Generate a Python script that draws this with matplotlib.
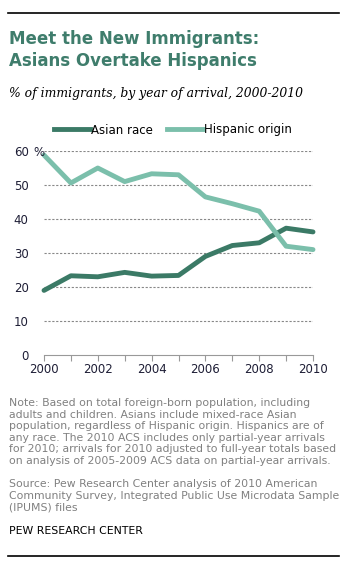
import matplotlib
matplotlib.use('Agg')
import matplotlib.pyplot as plt
from matplotlib.lines import Line2D

# Data
years = list(range(2000, 2011))
asian = [19.0, 23.3, 23.0, 24.3, 23.2, 23.4, 29.0, 32.2, 33.0, 37.3, 36.2]
hispanic = [58.8, 50.6, 55.0, 51.0, 53.3, 53.0, 46.5, 44.5, 42.3, 32.0, 31.0]
y_ticks = [0, 10, 20, 30, 40, 50, 60]
x_labels = [2000, 2002, 2004, 2006, 2008, 2010]

title = "Meet the New Immigrants:\nAsians Overtake Hispanics"
subtitle = "% of immigrants, by year of arrival, 2000-2010"
note = ("Note: Based on total foreign-born population, including\n"
        "adults and children. Asians include mixed-race Asian\n"
        "population, regardless of Hispanic origin. Hispanics are of\n"
        "any race. The 2010 ACS includes only partial-year arrivals\n"
        "for 2010; arrivals for 2010 adjusted to full-year totals based\n"
        "on analysis of 2005-2009 ACS data on partial-year arrivals.")
source = ("Source: Pew Research Center analysis of 2010 American\n"
          "Community Survey, Integrated Public Use Microdata Sample\n"
          "(IPUMS) files")

dark = '#3b7a66'
light = '#7bbfab'
tick_col = '#1e1e36'
W, H = 358, 566

fig = plt.figure(figsize=(W / 100, H / 100), dpi=100)
plt.rcParams['font.family'] = 'DejaVu Sans'

def fx(px):
    return px / W

def fy(py):
    return 1 - py / H

# rules at top and bottom
fig.add_artist(Line2D([fx(8), fx(339)], [fy(13), fy(13)], color='black', lw=1.2))
fig.add_artist(Line2D([fx(8), fx(339)], [fy(556), fy(556)], color='black', lw=1.2))

fig.text(fx(9), fy(30), title, fontsize=12, fontweight='bold', color='#3f7d6c',
         va='top', ha='left', linespacing=1.25)
fig.text(fx(9), fy(93), subtitle, fontsize=8.9, style='italic', family='DejaVu Serif',
         va='center', ha='left')

ax = fig.add_axes([fx(44), fy(355), fx(313) - fx(44), (355 - 151) / H])
ax.plot(years, asian, color=dark, lw=3.5, solid_capstyle='round', clip_on=False, zorder=3)
ax.plot(years, hispanic, color=light, lw=3.5, solid_capstyle='round', clip_on=False, zorder=3)
ax.set_xlim(2000, 2010)
ax.set_ylim(0, 60)
ax.set_yticks(y_ticks)
ax.set_yticklabels([str(v) for v in y_ticks])
ax.set_xticks(years)
ax.set_xticklabels([str(y) if y in x_labels else '' for y in years])
for v in y_ticks[1:]:
    ax.axhline(v, color='#888888', lw=0.8, ls=(0, (2, 1.5)), zorder=1)
fig.text(fx(33), fy(151), '%', fontsize=8.5, va='center_baseline', ha='left', color=tick_col)
for s in ['top', 'right', 'left']:
    ax.spines[s].set_visible(False)
ax.spines['bottom'].set_color('#999999')
ax.tick_params(axis='y', length=0, pad=11, labelsize=8.5, labelcolor=tick_col)
ax.tick_params(axis='x', length=4, color='#999999', pad=2, labelsize=8.5, labelcolor=tick_col)

# legend
legend_handles = [Line2D([], [], color=dark, lw=3.5), Line2D([], [], color=light, lw=3.5)]
fig.legend(legend_handles, ['Asian race', 'Hispanic origin'], loc='center',
           bbox_to_anchor=(fx(173), fy(130)), ncol=2, frameon=False, fontsize=8.5,
           handlelength=3, handletextpad=0.1, columnspacing=1.2)

fig.text(fx(9), fy(398), note, fontsize=7.8, color='#808080', va='top', ha='left',
         linespacing=1.2)
fig.text(fx(9), fy(479), source, fontsize=7.8, color='#808080', va='top', ha='left',
         linespacing=1.2)
fig.text(fx(9), fy(531), 'PEW RESEARCH CENTER', fontsize=7.8, color='black',
         va='center', ha='left')

fig.savefig('out.png', dpi=100)
